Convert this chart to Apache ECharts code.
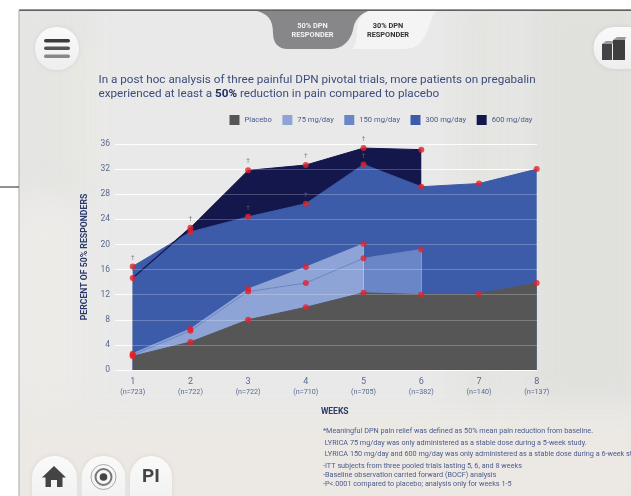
<!DOCTYPE html>
<html><head><meta charset="utf-8">
<style>
html,body{margin:0;padding:0;background:#fff;width:631px;height:496px;overflow:hidden}
#bg{position:absolute;left:19px;top:10px;width:612px;height:486px;overflow:hidden;background:#e8e8e7}
#bg div{position:absolute;filter:blur(16px)}
#deco{position:absolute;left:0;top:0}
#main{position:absolute;left:0;top:0;width:631px;height:496px}
</style>
<script src="https://cdn.jsdelivr.net/npm/echarts@6/dist/echarts.min.js"></script>
</head><body>
<div id="bg">
<div style="left:-20px;top:-20px;width:95px;height:220px;background:#e5e5e3"></div>
<div style="left:60px;top:40px;width:22px;height:130px;background:#ebeadf"></div>
<div style="left:-10px;top:190px;width:85px;height:215px;background:#edebe8"></div>
<div style="left:75px;top:-20px;width:380px;height:440px;background:#e9e9e9"></div>
<div style="left:440px;top:-20px;width:40px;height:420px;background:#e3e3e0"></div>
<div style="left:510px;top:-20px;width:120px;height:420px;background:#e0e1dd"></div>
<div style="left:-20px;top:402px;width:660px;height:110px;background:#ece9e4"></div>
</div>
<svg id="deco" width="631" height="496" viewBox="0 0 631 496">
<path d="M352 11 L437 11 C428 14 431 49 405 49 L352 49 C362 40 350 20 368 11 Z" fill="#f4f4f4"/>
<path d="M257 11 L368 11 C356 16 354 24 353 30 C350 42 342 49 330 49 L288 49 C278 49 273 43 273 33 C273 20 268 14 257 11 Z" fill="#87878a"/>
</svg>
<div id="main"></div>
<script>
const weeks=['1','2','3','4','5','6','7','8'];
const enrolled=['(n=723)','(n=722)','(n=722)','(n=710)','(n=705)','(n=382)','(n=140)','(n=137)'];
const placebo=[2.2,4.46,8,10,12.3,12,12.15,13.85];
const mg75=[2.6,6.55,12.9,16.4,20.1];
const mg150=[2.4,6.25,12.5,13.85,17.8,19.2];
const mg300=[16.5,22,24.4,26.5,32.75,29.2,29.7,32];
const mg600=[14.65,22.65,31.8,32.65,35.35,35.1];
const dagger300=[0,2,3,4];
const dagger600=[0,1,2,3,4];
const yTicks=[0,36,4];
const legendNames=['Placebo','75 mg/day','150 mg/day','300 mg/day','600 mg/day'];
const colors=['#565656','#8fa4d6','#6b86c6','#3c5ba8','#14174c'];
const titleLine='In a post hoc analysis of three painful DPN pivotal trials, more patients on pregabalin';
const footnotes=['*Meaningful DPN pain relief was defined as 50% mean pain reduction from baseline.',
' LYRICA 75 mg/day was only administered as a stable dose during a 5-week study.',
' LYRICA 150 mg/day and 600 mg/day was only administered as a stable dose during a 6-week study.',
'-ITT subjects from three pooled trials lasting 5, 6, and 8 weeks',
'-Baseline observation carried forward (BOCF) analysis',
'-P<.0001 compared to placebo; analysis only for weeks 1-5'];
const footY=[431,443,454.6,466,475,484];

const FONT='Roboto, "Noto Sans", sans-serif';
const area=(name,data,color,z)=>({type:'line',name,data,xAxisIndex:1,yAxisIndex:2,z,symbol:'none',
  lineStyle:{color,width:1},itemStyle:{color},areaStyle:{color,opacity:1},animation:false});
const dots=(name,data,z,daggers)=>({type:'scatter',name:name+' pts',data,xAxisIndex:1,yAxisIndex:2,z,symbolSize:6,
  itemStyle:{color:'#e4202c'},animation:false,
  label:{show:true,position:'top',distance:2,fontSize:6.5,color:'#666',fontFamily:FONT,
    formatter:p=>daggers.includes(p.dataIndex)?'\u2020':''}});
const txt=(x,y,text,size,color,weight,align)=>({type:'text',x,y,z:20,style:{text,fontSize:size,fill:color,fontWeight:weight||'normal',fontFamily:FONT,align:align||'left',verticalAlign:'middle'}});
const btn=(x,y,w,h,r)=>({type:'rect',z:10,shape:{x,y,width:w,height:h,r},style:{fill:{type:'linear',x:0,y:0,x2:0,y2:1,colorStops:[{offset:0,color:'#fafafa'},{offset:1,color:'#eeeeee'}]},shadowBlur:4,shadowColor:'rgba(0,0,0,.08)'}});
const bar=(x,y,w,h,fill)=>({type:'rect',z:11,shape:{x,y,width:w,height:h,r:h/2},style:{fill}});

const graphic=[
 {type:'rect',z:9,shape:{x:19,y:9.5,width:612,height:1.2},style:{fill:'#333'}},
 {type:'rect',z:9,shape:{x:18.5,y:10,width:1,height:486},style:{fill:'#a8a8a8'}},
 {type:'rect',z:9,shape:{x:0,y:186.5,width:19,height:1},style:{fill:'#222'}},
 txt(312.5,26,'50% DPN',7.4,'#f2f2f2','bold','center'),
 txt(312.5,35,'RESPONDER',7.4,'#f2f2f2','bold','center'),
 txt(388,26,'30% DPN',7.4,'#333','bold','center'),
 txt(388,35,'RESPONDER',7.4,'#333','bold','center'),
 btn(35,27,44,43,21),
 bar(44,39,26,3.5,'#3a3a3a'),bar(44,46.5,26,3.5,'#555'),bar(44,54.5,26,3.5,'#888'),
 btn(593.5,27,60,42,21),
 {type:'polygon',z:11,shape:{points:[[602,44],[606,41],[616,41],[612,44]]},style:{fill:'#9a9a9a'}},
 {type:'rect',z:11,shape:{x:602,y:44,width:10,height:16},style:{fill:'#444'}},
 {type:'polygon',z:11,shape:{points:[[613,40],[617,37],[626,37],[625,40]]},style:{fill:'#9a9a9a'}},
 {type:'rect',z:11,shape:{x:613,y:40,width:12,height:20},style:{fill:'#3e3e3e'}},
 txt(98.5,80,titleLine,11.7,'#3d4d7c'),
 {type:'text',x:98.5,y:94,z:20,style:{fontFamily:FONT,verticalAlign:'middle',
   text:'{a|experienced at least a }{b|50%}{a| reduction in pain compared to placebo}',
   rich:{a:{fontSize:11.7,fill:'#3d4d7c',fontFamily:FONT},b:{fontSize:11.7,fontWeight:'bold',fill:'#1f2f66',fontFamily:FONT}}}},
 btn(32,456,45,60,22),btn(81.7,456,43.5,60,21),btn(130,456,42,60,21),
 {type:'polygon',z:11,shape:{points:[[54,466],[66,477.5],[62.5,477.5],[62.5,487],[57,487],[57,480],[51,480],[51,487],[45.5,487],[45.5,477.5],[42,477.5]]},style:{fill:'#444'}},
 {type:'circle',z:11,shape:{cx:103.5,cy:477,r:12.5},style:{fill:'none',stroke:'#888',lineWidth:.7}},
 {type:'circle',z:11,shape:{cx:103.5,cy:477,r:8},style:{fill:'none',stroke:'#777',lineWidth:2}},
 {type:'circle',z:11,shape:{cx:103.5,cy:477,r:3.8},style:{fill:'#444'}},
 txt(151,477,'PI',19,'#444','bold','center')
];
footnotes.forEach((t,i)=>graphic.push(txt(323,footY[i],t,7.25,'#4a5a8c')));

const chart=echarts.init(document.getElementById('main'),null,{renderer:'canvas'});
chart.setOption({
 animation:false,backgroundColor:'transparent',
 legend:{data:legendNames,left:224.5,top:110,icon:'rect',itemWidth:10,itemHeight:10,itemGap:10.5,
   textStyle:{fontSize:7.6,color:'#4a5a8c',fontFamily:FONT}},
 grid:[{left:115,right:94,top:144,height:226},{left:132.7,width:404,top:144,height:226}],
 xAxis:[
  {gridIndex:0,type:'value',show:false,min:0,max:1},
  {gridIndex:1,type:'category',boundaryGap:false,data:weeks,z:1,
   axisLine:{show:false},axisTick:{show:false},splitLine:{show:false},
   axisLabel:{margin:7,interval:0,color:'#5a6a92',fontFamily:FONT,
     formatter:(v,i)=>'{w|'+v+'}\n{n|'+enrolled[i]+'}',
     rich:{w:{fontSize:9,color:'#5a6a92',fontFamily:FONT,lineHeight:10},n:{fontSize:7.2,color:'#5a6a92',fontFamily:FONT,lineHeight:10}}},
   name:'WEEKS',nameLocation:'middle',nameGap:37,
   nameTextStyle:{fontSize:8.5,fontWeight:'bold',color:'#2a3a6c',fontFamily:FONT}}
 ],
 yAxis:[
  {gridIndex:0,type:'value',min:yTicks[0],max:yTicks[1],interval:yTicks[2],z:0,
   axisLine:{show:false},axisTick:{show:false},
   splitLine:{show:true,lineStyle:{color:'rgba(255,255,255,0.9)',width:1.2}},
   axisLabel:{margin:5,fontSize:8.5,color:'#5a6a92',fontFamily:FONT},
   name:'PERCENT OF 50% RESPONDERS',nameLocation:'middle',nameGap:26,nameRotate:90,
   nameTextStyle:{fontSize:8.7,fontWeight:'bold',color:'#2a3a6c',fontFamily:FONT}},
  {gridIndex:0,type:'value',position:'left',min:yTicks[0],max:yTicks[1],interval:yTicks[2],z:6,
   axisLine:{show:false},axisTick:{show:false},axisLabel:{show:false},
   splitLine:{show:true,lineStyle:{color:'rgba(255,255,255,0.23)',width:1.2}}},
  {gridIndex:1,type:'value',min:yTicks[0],max:yTicks[1],interval:yTicks[2],show:false,splitLine:{show:false}}
 ],
 series:[
  area(legendNames[4],mg600,colors[4],2),
  area(legendNames[3],mg300,colors[3],2.1),
  {type:'line',name:'600 line',data:mg600.slice(0,2),xAxisIndex:1,yAxisIndex:2,z:2.2,symbol:'none',lineStyle:{color:colors[4],width:1.2},animation:false},
  area(legendNames[2],mg150,colors[2],2.3),
  area(legendNames[1],mg75,colors[1],2.4),
  {type:'line',name:'150 line',data:mg150.slice(0,5),xAxisIndex:1,yAxisIndex:2,z:2.5,symbol:'none',lineStyle:{color:colors[2],width:1},animation:false,
   markLine:{silent:true,symbol:'none',label:{show:false},animation:false,lineStyle:{color:'rgba(255,255,255,0.35)',width:1,type:'solid'},
     data:[[{coord:[weeks[4],mg75[4]]},{coord:[weeks[4],placebo[4]]}],[{coord:[weeks[5],mg150[5]]},{coord:[weeks[5],placebo[5]]}]]}},
  area(legendNames[0],placebo,colors[0],2.6),
  dots('600',mg600,8,dagger600),dots('300',mg300,8,dagger300),dots('150',mg150,8,[]),dots('75',mg75,8,[]),dots('placebo',placebo,8,[])
 ],
 graphic:{elements:graphic}
});
</script>
</body></html>
